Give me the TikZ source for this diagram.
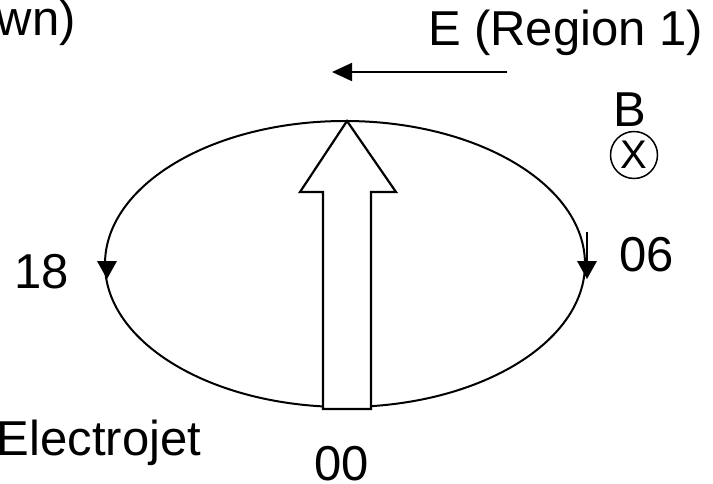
\documentclass[tikz,border=0pt]{standalone}
\usepackage{fontspec}
\setmainfont{Liberation Sans}
\usetikzlibrary{arrows.meta}
\tikzset{
  lbl/.style={anchor=base west, inner sep=0pt, outer sep=0pt, font=\fontsize{49}{58}\selectfont},
  curve/.style={line width=2pt, black},
  headtri/.style={fill=black, draw=none}
}
\begin{document}
\begin{tikzpicture}[x=1pt, y=-1pt]
\useasboundingbox (0,0) rectangle (713,483);
% ellipse
\draw[curve] (345,264) ellipse [x radius=240, y radius=143];
% direction arrowheads
\fill[headtri] (97,261) -- (117,261) -- (107,279) -- cycle;
\coordinate (rs) at (587,232);
\coordinate (rt) at (587,262);
\draw[line width=1.6pt] (rs) -- (rt);
\fill[headtri] (577,261) -- (597,261) -- (587,279) -- cycle;
% big hollow arrow
\draw[line width=2.2pt, fill=white, line join=miter]
  (347,121) -- (396,192) -- (371,192) -- (371,409) -- (323,409) -- (323,192) -- (300,192) -- cycle;
% E arrow
\coordinate (es) at (507,72);
\coordinate (ee) at (332,72);
\draw[line width=1.8pt, -{Triangle[length=20pt,width=18pt]}] (es) -- (ee);
% labels
\node[lbl] (wn) at (-3,35) {wn)};
\node[lbl] (elab) at (428,45) {E (Region 1)};
\node[lbl] (n18) at (14,288) {18};
\node[lbl] (n06) at (619,271) {06};
\node[lbl] (n00) at (314,480) {00};
\node[lbl] (ej) at (-3,455) {Electrojet};
\node[lbl] (bl) at (613,126) {B};
\node[circle, draw, line width=1.5pt, minimum size=47pt, inner sep=0pt,
      font=\fontsize{40}{44}\selectfont] (bx) at (634,155) {X};
\end{tikzpicture}
\end{document}
